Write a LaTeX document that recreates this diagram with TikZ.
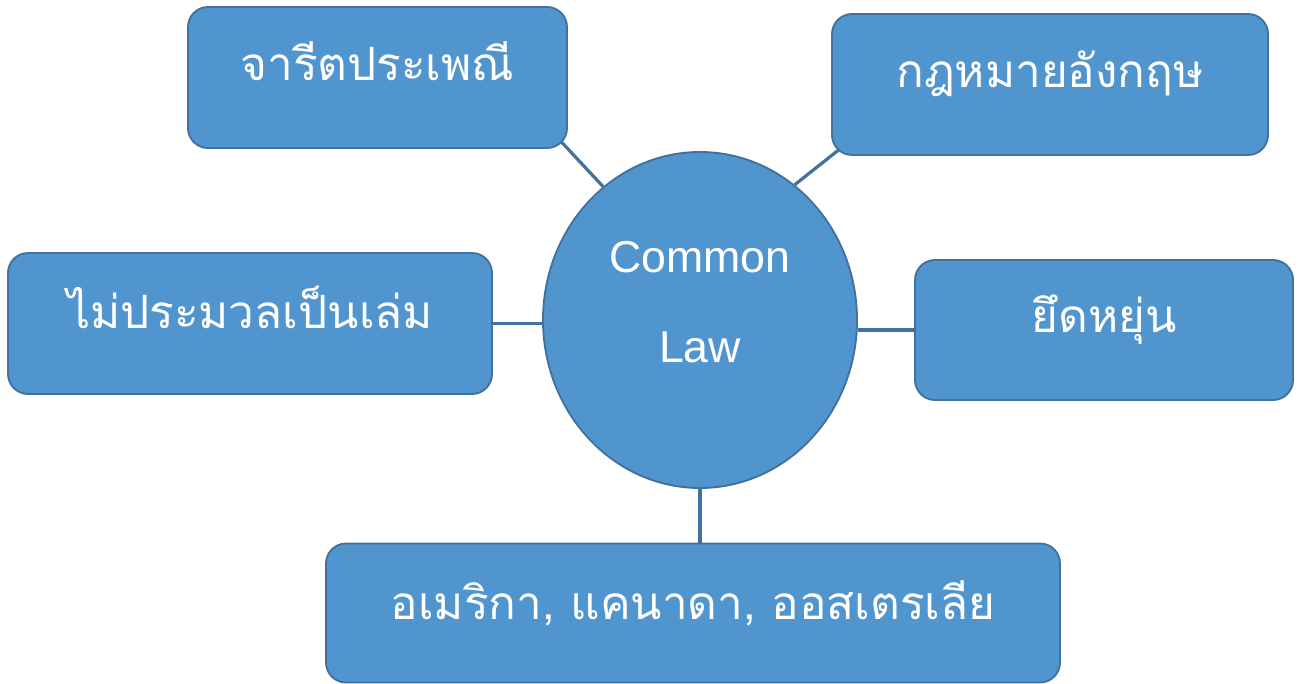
\documentclass[tikz,border=0pt]{standalone}
\usepackage{fontspec}
\setmainfont{Liberation Sans}
\newfontfamily\thaifont[Script=Thai]{Loma}
\usetikzlibrary{shapes.geometric,backgrounds}
\definecolor{boxfill}{RGB}{81,149,207}
\definecolor{boxline}{RGB}{65,113,156}
\tikzset{
  x=0.75pt, y=-0.75pt,
  topicbox/.style={rectangle, rounded corners=15pt, fill=boxfill, draw=boxline, line width=1.4pt,
    inner sep=0pt, text=white, font=\thaifont\fontsize{34.4}{40}\selectfont},
  hub/.style={ellipse, fill=boxfill, draw=boxline, line width=1.4pt, inner sep=0pt,
    minimum width=235.5pt, minimum height=252pt},
  hubtext/.style={text=white, font=\fontsize{33.5}{67.5}\selectfont, align=center, inner sep=0pt},
  link/.style={draw=boxline, line width=2.4pt}
}
\begin{document}
\begin{tikzpicture}
% hub
\node[hub] (cl) at (700,320) {};
\node[hubtext, anchor=base] (cltext) at (700,362) {Common\\Law};
% boxes
\node[topicbox, minimum width=284.25pt, text height=55.5pt, text depth=50.25pt] (b1) at (377.5,77.5) {จารีตประเพณี};
\node[topicbox, minimum width=327pt, text height=55.5pt, text depth=50.25pt] (b2) at (1050,84.5) {กฎหมายอังกฤษ};
\node[topicbox, minimum width=363pt, text height=57pt, text depth=48.75pt] (b3) at (250,323.5) {ไม่ประมวลเป็นเล่ม};
\node[topicbox, minimum width=283.5pt, text height=54pt, text depth=51pt] (b4) at (1104,330) {ยึดหยุ่น};
\node[topicbox, minimum width=550.5pt, text height=57pt, text depth=47.25pt] (b5) at (693,613) {อเมริกา, แคนาดา, ออสเตรเลีย};
% connectors
\begin{scope}[on background layer]
\fill[white] (0,0) rectangle (1299,684);
\draw[link, shorten <=-10pt] (b1.south east) -- (cl.126);
\draw[link, shorten <=-10pt] (b2.south west) -- (cl.55);
\draw[link] (b3.east) -- (b3.east -| cl.west);
\draw[link] (b4.west) -- (b4.west -| cl.east);
\draw[link] (cl.south) -- (b5.north -| cl.south);
\end{scope}
\useasboundingbox (0,0) rectangle (1299,684);
\end{tikzpicture}
\end{document}
